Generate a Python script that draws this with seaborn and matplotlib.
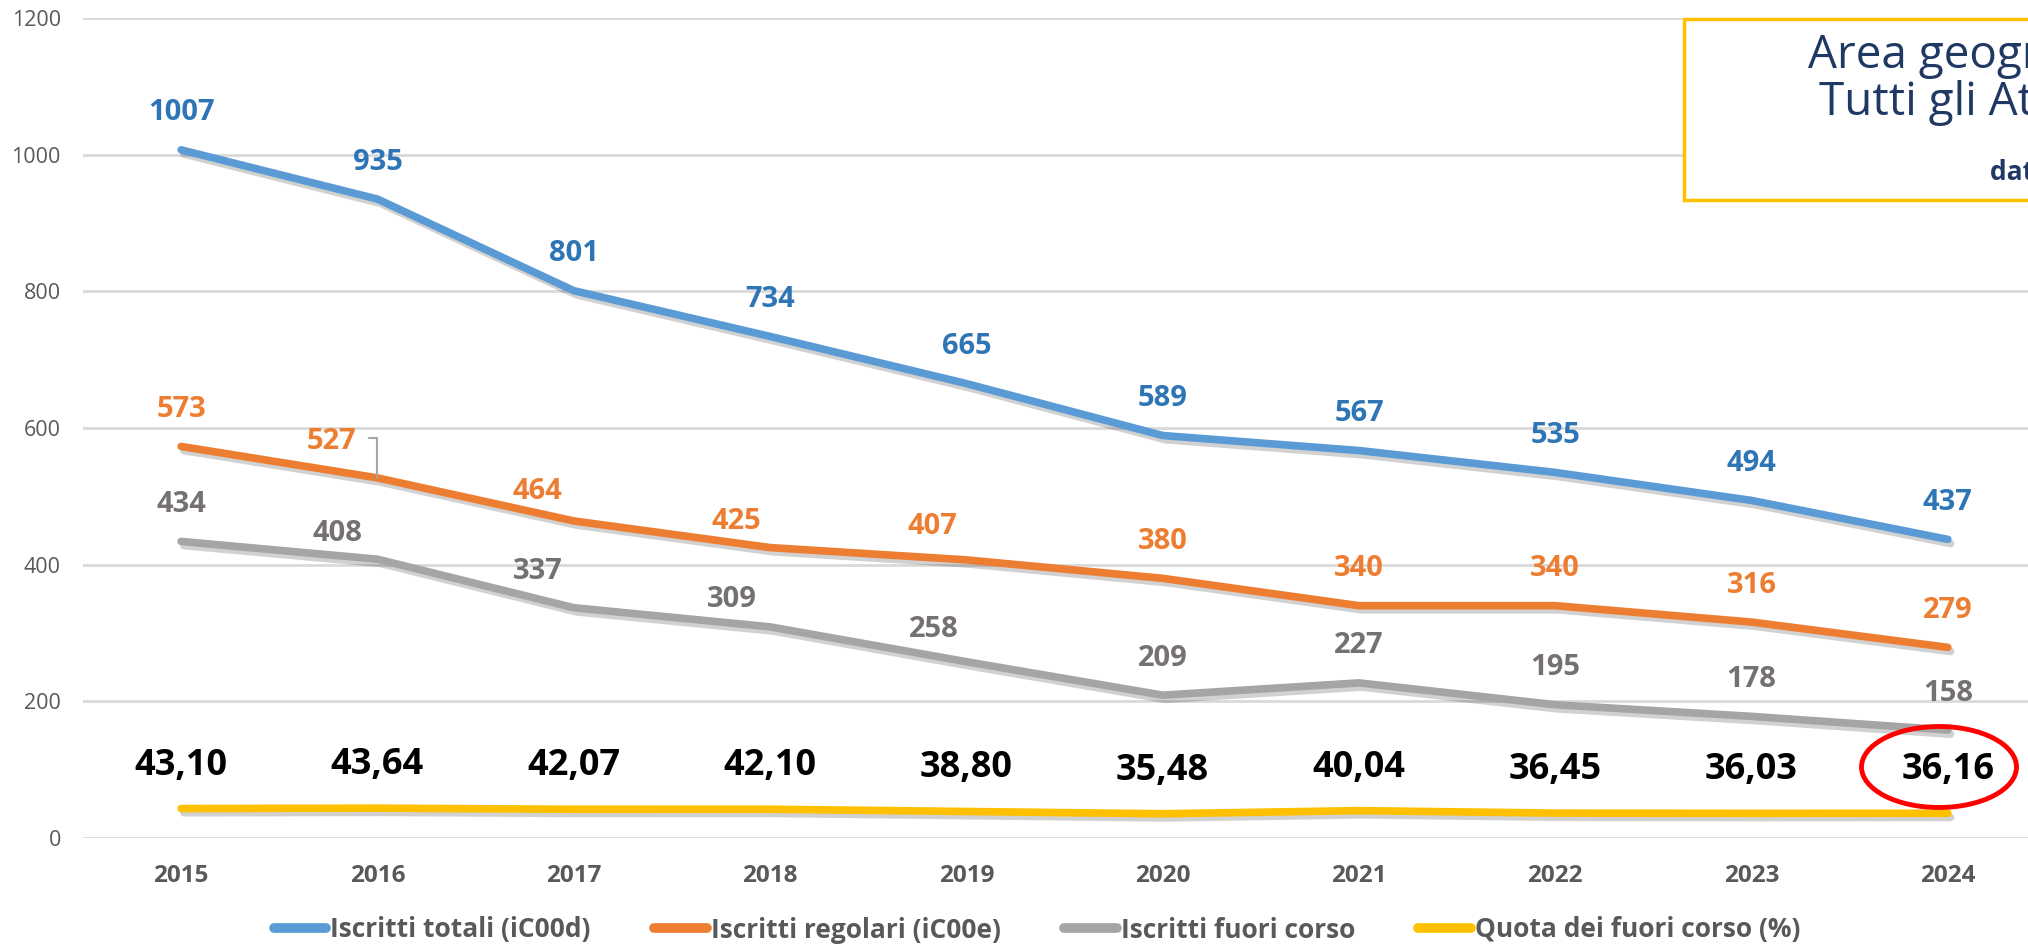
import matplotlib
matplotlib.use('Agg')
import matplotlib.pyplot as plt
import matplotlib.patheffects as pe
from matplotlib.patches import Ellipse, Rectangle
from matplotlib.lines import Line2D
import pandas as pd
import seaborn as sns

# dati
anni = ['2015', '2016', '2017', '2018', '2019', '2020', '2021', '2022', '2023', '2024']
iscritti_totali = [1007, 935, 801, 734, 665, 589, 567, 535, 494, 437]
iscritti_regolari = [573, 527, 464, 425, 407, 380, 340, 340, 316, 279]
fuori_corso = [434, 408, 337, 309, 258, 209, 227, 195, 178, 158]
quota_fc = [43.10, 43.64, 42.07, 42.10, 38.80, 35.48, 40.04, 36.45, 36.03, 36.16]

serie = ['Iscritti totali (iC00d)', 'Iscritti regolari (iC00e)',
         'Iscritti fuori corso', 'Quota dei fuori corso (%)']
colori = ['#5B9BD5', '#ED7D31', '#A5A5A5', '#FFC000']
col_etichette = ['#2E75B6', '#ED7D31', '#767171', '#000000']

# spostamenti delle etichette (pixel)
dx_lab = [[0] * 10,
          [0, -46, -36, -34, -34, 0, 0, 0, 0, 0],
          [0, -40, -36, -38, -33, 0, 0, 0, 0, 0],
          [0] * 10]
dy_lab = [[37] * 10,
          [37, 36, 29, 26, 33, 37, 37, 37, 37, 37],
          [37, 26, 36, 27, 32, 37, 37, 37, 37, 37],
          [43] * 10]

valori = [iscritti_totali, iscritti_regolari, fuori_corso, quota_fc]
df = pd.DataFrame({
    'pos': list(range(len(anni))) * 4,
    'valore': sum(valori, []),
    'serie': [s for s in serie for _ in anni],
})

sns.set_theme(style='white')
plt.rcParams['font.family'] = ['Open Sans', 'DejaVu Sans']

fig = plt.figure(figsize=(20.28, 9.48), dpi=100)
ax = fig.add_axes([83 / 2028, 1 - 838 / 948, 1963 / 2028, 820 / 948])

sns.lineplot(data=df, x='pos', y='valore', hue='serie', hue_order=serie,
             palette=colori, linewidth=5.5, sort=False, legend=False, ax=ax)
for ln in ax.lines:
    ln.set_solid_capstyle('round')
    ln.set_solid_joinstyle('round')
    ln.set_path_effects([pe.SimpleLineShadow(offset=(2, -3), alpha=0.2),
                         pe.Normal()])

ax.set_xlim(-0.5, 9.5)
ax.set_ylim(0, 1200)
ax.set_yticks(range(0, 1201, 200))
ax.yaxis.grid(True, color='#D9D9D9', linewidth=2)
ax.set_axisbelow(True)
for s in ax.spines.values():
    s.set_visible(False)
ax.set_xticks(range(len(anni)))
ax.set_xticklabels(anni, fontsize=17.5, fontweight='bold', color='#595959')
ax.tick_params(axis='x', length=0, pad=19)
ax.tick_params(axis='y', length=0, pad=16, labelsize=15.5, labelcolor='#595959')
ax.set_xlabel('')
ax.set_ylabel('')

# etichette
for k, vals in enumerate(valori):
    for i, v in enumerate(vals):
        if k == 3:
            txt = f'{v:.2f}'.replace('.', ',')
            fs = 26
        else:
            txt = str(v)
            fs = 21
        if k == 1 and i == 1:
            ax.annotate(txt, xy=(i, v), xytext=(dx_lab[k][i], dy_lab[k][i]),
                        textcoords='offset pixels', ha='center', va='center',
                        fontsize=fs, fontweight='bold', color=col_etichette[k],
                        arrowprops=dict(arrowstyle='-', color='#A5A5A5', lw=1.5,
                                        connectionstyle='angle,angleA=0,angleB=90,rad=0',
                                        relpos=(1.25, 0.62), shrinkA=0, shrinkB=0))
        else:
            ax.annotate(txt, xy=(i, v), xytext=(dx_lab[k][i], dy_lab[k][i]),
                        textcoords='offset pixels', ha='center', va='center',
                        fontsize=fs, fontweight='bold', color=col_etichette[k])

# ellisse rossa sull'ultimo valore
ell = Ellipse((1939 / 2028, 1 - 767 / 948), 155 / 2028, 81 / 948,
              transform=fig.transFigure, fill=False, edgecolor='#FF0000', linewidth=3.5)
fig.patches.append(ell)

# riquadro titolo (tagliato a destra come nell'originale)
box = Rectangle((1684 / 2028, 1 - 200 / 948), 400 / 2028, 181 / 948,
                transform=fig.transFigure, facecolor='white', edgecolor='#FFC000',
                linewidth=2.5, zorder=5)
fig.patches.append(box)
fig.text(1808 / 2028, 1 - 68 / 948, 'Area geografica', fontsize=33, color='#203864',
         ha='left', va='baseline', zorder=6)
fig.text(1819 / 2028, 1 - 115 / 948, 'Tutti gli Atenei', fontsize=33, color='#203864',
         ha='left', va='baseline', zorder=6)
fig.text(1990 / 2028, 1 - 180 / 948, 'dati ANS', fontsize=19, fontweight='bold',
         color='#203864', ha='left', va='baseline', zorder=6)

# legenda
maniglie = [Line2D([0], [0], color=c, linewidth=7, solid_capstyle='round') for c in colori]
fig.legend(maniglie, serie, loc='center', bbox_to_anchor=(1037 / 2028, 1 - 930 / 948),
           ncol=4, frameon=False, handlelength=2.0, handletextpad=0.15, columnspacing=2.4,
           prop={'size': 19, 'weight': 'bold'}, labelcolor='#595959')

fig.savefig('out.png', dpi=100)
